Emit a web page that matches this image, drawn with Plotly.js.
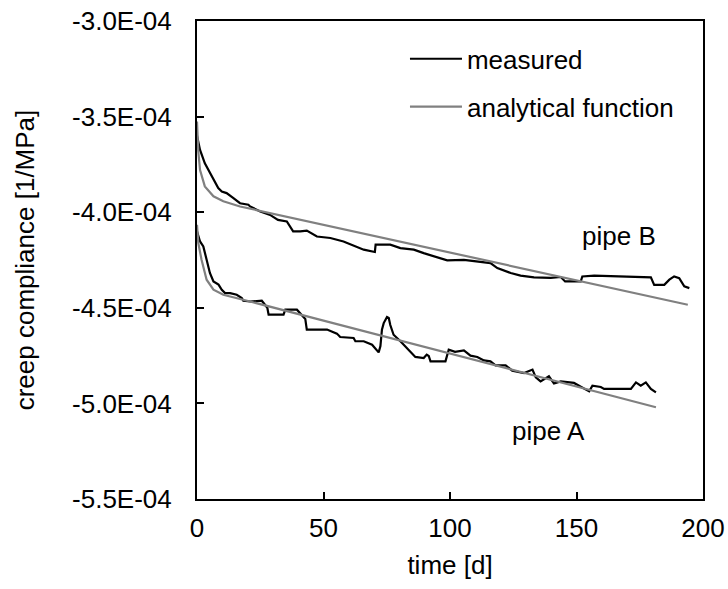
<!DOCTYPE html>
<html>
<head>
<meta charset="utf-8">
<script src="https://cdn.plot.ly/plotly-3.0.1.min.js"></script>
<style>html,body{margin:0;padding:0;background:#fff;}#chart{width:728px;height:589px;}</style>
</head>
<body>
<div id="chart"></div>
<script>
// values in units of 1e-4 1/MPa
const UNIT = 1e-4;

const pipeA_measured_t = [0,1.2,2.5,3.8,5.1,6.5,8.5,9.8,11.1,13.1,15.7,17.7,18.3,21,25.6,27.8,28.3,34.2,34.9,39.5,42.8,43.4,51.4,55.3,56.6,61.9,62.6,65.9,69.2,71.8,72.5,73.1,73.8,75.1,75.8,76.4,77.7,80.4,84.4,86.3,89.6,90.8,91.6,92.3,98.2,99.5,102,105.5,108.1,110.8,113.4,116,118,122,124.6,129.3,132.6,133.9,135.8,137.5,139.1,141.1,143.8,149,151.7,155,156.3,159.6,160.9,171.5,173.5,175.4,177.4,179.4,181.4];
const pipeA_measured_c = [-4.10,-4.153,-4.179,-4.249,-4.318,-4.362,-4.379,-4.406,-4.423,-4.423,-4.432,-4.449,-4.463,-4.467,-4.463,-4.50,-4.536,-4.536,-4.51,-4.51,-4.558,-4.614,-4.614,-4.635,-4.653,-4.658,-4.675,-4.675,-4.693,-4.733,-4.70,-4.614,-4.58,-4.548,-4.553,-4.59,-4.641,-4.675,-4.728,-4.757,-4.763,-4.745,-4.752,-4.78,-4.78,-4.719,-4.73,-4.723,-4.75,-4.757,-4.775,-4.78,-4.801,-4.801,-4.829,-4.841,-4.823,-4.864,-4.885,-4.87,-4.858,-4.896,-4.885,-4.893,-4.911,-4.937,-4.907,-4.914,-4.924,-4.924,-4.89,-4.907,-4.89,-4.924,-4.942];

const pipeB_measured_t = [0,1.2,3.1,5.1,7.1,8.4,9.8,11.7,14.4,17,20.3,21,25,28.9,32,35.5,38,40.8,43.4,47.4,52.7,57.9,65.9,69.2,70.3,70.6,76.4,80.4,85.7,89.6,96.2,98.9,105.5,112.1,116,118.7,124,127.9,133.2,139.8,143.8,145.5,151.7,152.3,157,179.4,180.7,184.7,186.7,188.6,190.6,192.6,194.6];
const pipeB_measured_c = [-3.60,-3.674,-3.744,-3.796,-3.84,-3.874,-3.892,-3.90,-3.926,-3.953,-3.961,-3.97,-3.996,-4.014,-4.04,-4.048,-4.10,-4.10,-4.096,-4.127,-4.135,-4.153,-4.196,-4.208,-4.208,-4.17,-4.17,-4.188,-4.196,-4.214,-4.24,-4.252,-4.249,-4.258,-4.266,-4.292,-4.318,-4.332,-4.341,-4.344,-4.339,-4.362,-4.362,-4.336,-4.332,-4.341,-4.38,-4.38,-4.353,-4.336,-4.345,-4.388,-4.397];

const pipeA_fit_t = [0,0.5,1.8,3.8,6.5,10.4,17,21,50,100,150,181.4];
const pipeA_fit_c = [-4.066,-4.16,-4.249,-4.353,-4.405,-4.432,-4.454,-4.467,-4.567,-4.739,-4.911,-5.02];

const pipeB_fit_t = [0,0.5,1.2,3.1,6.5,10.4,17,50,100,150,194];
const pipeB_fit_c = [-3.526,-3.68,-3.78,-3.865,-3.917,-3.943,-3.97,-4.066,-4.211,-4.356,-4.484];

const yTickVals = [-3.0,-3.5,-4.0,-4.5,-5.0,-5.5];
const yTickText = ["-3.0E-04","-3.5E-04","-4.0E-04","-4.5E-04","-5.0E-04","-5.5E-04"];
const xTickVals = [0,50,100,150,200];

const toUnit = a => a.map(v => v * UNIT);

const FONT = "Liberation Sans, Arial, sans-serif";
const FS = 26;
const BLACK = "#000000";
const GREY = "#808080";

const traces = [
  {x: pipeA_measured_t, y: toUnit(pipeA_measured_c), type: "scatter", mode: "lines", name: "measured",
   line: {color: BLACK, width: 2.2}, legendgroup: "a", showlegend: true},
  {x: pipeB_measured_t, y: toUnit(pipeB_measured_c), type: "scatter", mode: "lines", name: "measured",
   line: {color: BLACK, width: 2.2}, legendgroup: "a", showlegend: false},
  {x: pipeA_fit_t, y: toUnit(pipeA_fit_c), type: "scatter", mode: "lines", name: "analytical function",
   line: {color: GREY, width: 2.2}, legendgroup: "b", showlegend: true},
  {x: pipeB_fit_t, y: toUnit(pipeB_fit_c), type: "scatter", mode: "lines", name: "analytical function",
   line: {color: GREY, width: 2.2}, legendgroup: "b", showlegend: false}
];

const layout = {
  width: 728, height: 589,
  margin: {l: 197, r: 25, t: 21, b: 90},
  paper_bgcolor: "#fff", plot_bgcolor: "#fff",
  font: {family: FONT, size: FS, color: BLACK},
  showlegend: true,
  legend: {x: 0.411, y: 0.97, xanchor: "left", yanchor: "top", traceorder: "grouped",
           tracegroupgap: 11, itemwidth: 52, bgcolor: "rgba(0,0,0,0)", font: {family: FONT, size: FS, color: BLACK}},
  xaxis: {range: [0, 200], tickvals: xTickVals, ticks: "inside", ticklen: 7, tickwidth: 2, tickcolor: BLACK,
          showline: true, linecolor: BLACK, linewidth: 2, mirror: true, showgrid: false, zeroline: false,
          ticklabelstandoff: 5,
          title: {text: "time [d]", font: {family: FONT, size: FS}, standoff: 14}},
  yaxis: {range: [-5.5e-4, -3.0e-4], tickvals: toUnit(yTickVals), ticktext: yTickText, ticks: "inside", ticklen: 7,
          tickwidth: 2, tickcolor: BLACK, showline: true, linecolor: BLACK, linewidth: 2, mirror: true,
          showgrid: false, zeroline: false, ticklabelstandoff: 18,
          title: {text: "creep compliance [1/MPa]", font: {family: FONT, size: FS}, standoff: 30}},
  annotations: [
    {x: 166.9, y: -4.127e-4, xref: "x", yref: "y", text: "pipe B", showarrow: false, font: {family: FONT, size: FS}},
    {x: 139.1, y: -5.146e-4, xref: "x", yref: "y", text: "pipe A", showarrow: false, font: {family: FONT, size: FS}}
  ]
};

Plotly.newPlot("chart", traces, layout, {displayModeBar: false, staticPlot: true});
</script>
</body>
</html>
